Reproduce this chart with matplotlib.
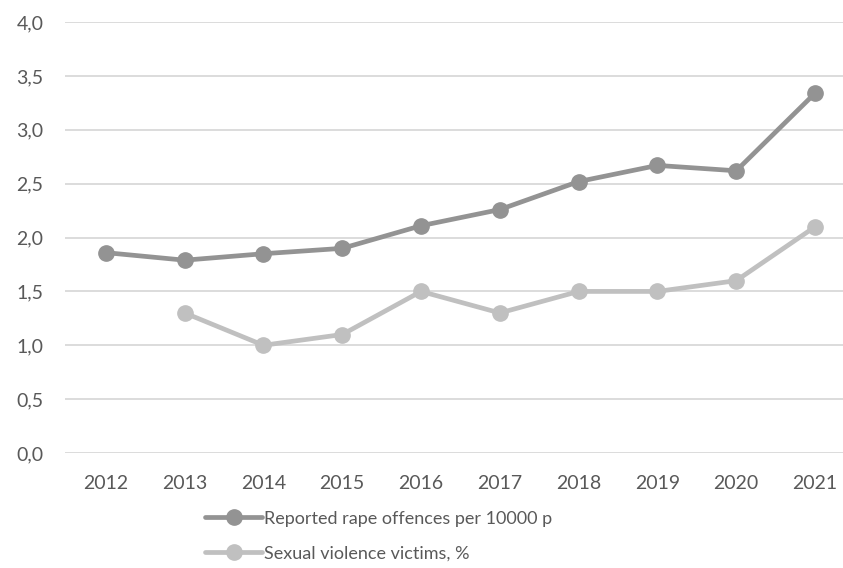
import matplotlib
matplotlib.use("Agg")
import matplotlib.pyplot as plt

years = ["2012", "2013", "2014", "2015", "2016", "2017", "2018", "2019", "2020", "2021"]
rape_offences = [1.86, 1.79, 1.85, 1.90, 2.11, 2.26, 2.52, 2.67, 2.62, 3.34]
victims_years = ["2013", "2014", "2015", "2016", "2017", "2018", "2019", "2020", "2021"]
victims = [1.3, 1.0, 1.1, 1.5, 1.3, 1.5, 1.5, 1.6, 2.1]
y_ticks = [0.0, 0.5, 1.0, 1.5, 2.0, 2.5, 3.0, 3.5, 4.0]
labels = ["Reported rape offences per 10000 p", "Sexual violence victims, %"]

plt.rcParams['font.family'] = ['Lato', 'DejaVu Sans']
text_color = "#595959"

fig = plt.figure(figsize=(8.43, 5.68), dpi=100)
ax = fig.add_axes([0.077, 0.2025, 0.923, 0.7585])

xpos = {y: i for i, y in enumerate(years)}
ax.plot([xpos[y] for y in years], rape_offences, color="#939393", lw=3.4,
        marker="o", ms=11, label=labels[0], solid_capstyle="round", zorder=3)
ax.plot([xpos[y] for y in victims_years], victims, color="#c0c0c0", lw=3.4,
        marker="o", ms=11, label=labels[1], solid_capstyle="round", zorder=3)

ax.set_xlim(-0.52, 9.355)
ax.set_ylim(0, 4.0)
ax.set_yticks(y_ticks)
ax.set_yticklabels([f"{v:.1f}".replace(".", ",") for v in y_ticks])
ax.set_xticks(range(len(years)))
ax.set_xticklabels(years)
ax.grid(axis="y", color="#d9d9d9", lw=1.3)
ax.set_axisbelow(True)
for s in ax.spines.values():
    s.set_visible(False)
ax.tick_params(axis="both", length=0, labelsize=14, colors=text_color)
ax.tick_params(axis="x", pad=16)
ax.tick_params(axis="y", pad=15.5)

leg = fig.legend(loc="upper left", bbox_to_anchor=(0.235, 0.1135), ncol=1,
                 frameon=False, fontsize=13, handlelength=3.15, handletextpad=0.1,
                 labelspacing=1.05, borderaxespad=0)
for t in leg.get_texts():
    t.set_color(text_color)

fig.savefig("out.png", dpi=100)
